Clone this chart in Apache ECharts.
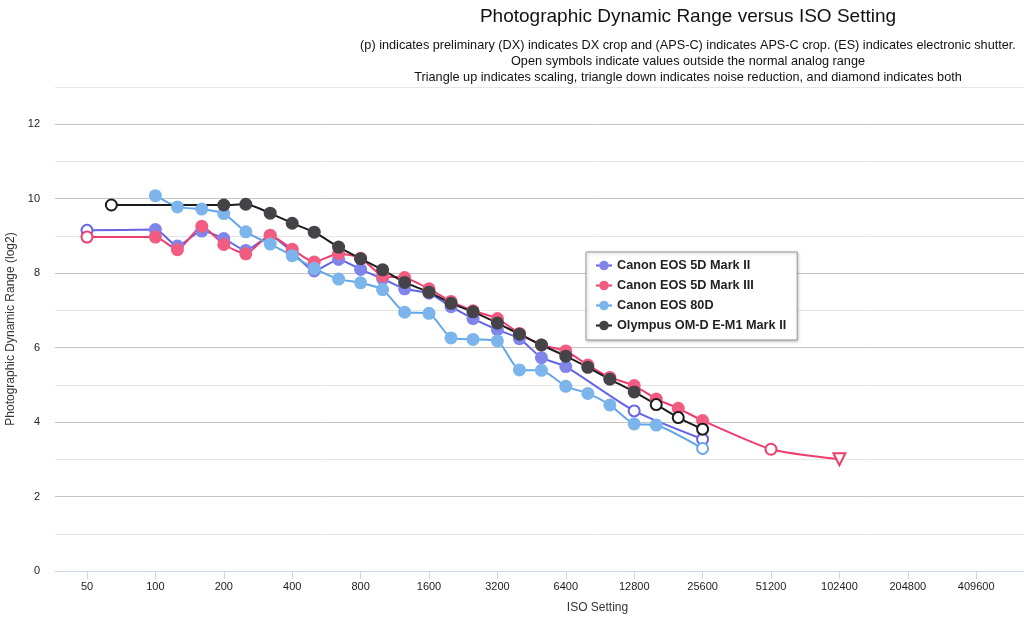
<!DOCTYPE html>
<html>
<head>
<meta charset="utf-8">
<script src="https://cdn.jsdelivr.net/npm/echarts@6/dist/echarts.min.js"></script>
<style>
html,body{margin:0;padding:0;background:#fff;overflow:hidden;width:1024px;height:643px;}
#chart{width:1376px;height:643px;}
</style>
</head>
<body>
<div id="chart"></div>
<script>
// ---- data (ISO setting, photographic dynamic range in log2) ----
// marker codes: 'f' filled, 'o' open (outside normal analog range), 'v' triangle down (noise reduction, open)
const isoTicks = [50, 100, 200, 400, 800, 1600, 3200, 6400, 12800, 25600, 51200, 102400, 204800, 409600, 819200, 1638400];
const yTicks = [0, 2, 4, 6, 8, 10, 12];

const mk2Iso = [50,100,125,160,200,250,320,400,500,640,800,1000,1250,1600,2000,2500,3200,4000,5000,6400,12800,25600];
const mk2Dr  = [9.15,9.17,8.73,9.13,8.93,8.61,9.00,8.57,8.06,8.37,8.10,7.85,7.58,7.46,7.10,6.78,6.48,6.24,5.73,5.49,4.30,3.54];
const mk2Mk  = ['o','f','f','f','f','f','f','f','f','f','f','f','f','f','f','f','f','f','f','f','o','o'];

const mk3Iso = [50,100,125,160,200,250,320,400,500,640,800,1000,1250,1600,2000,2500,3200,4000,5000,6400,8000,10000,12800,16000,20000,25600,51200,102400];
const mk3Dr  = [8.97,8.97,8.63,9.26,8.77,8.52,9.02,8.64,8.30,8.53,8.40,7.92,7.88,7.58,7.24,6.99,6.78,6.38,6.07,5.91,5.53,5.20,4.98,4.62,4.37,4.04,3.27,3.00];
const mk3Mk  = ['o','f','f','f','f','f','f','f','f','f','f','f','f','f','f','f','f','f','f','f','f','f','f','f','f','f','o','v'];

const d80Iso = [100,125,160,200,250,320,400,500,640,800,1000,1250,1600,2000,2500,3200,4000,5000,6400,8000,10000,12800,16000,25600];
const d80Dr  = [10.08,9.78,9.72,9.60,9.11,8.78,8.47,8.13,7.84,7.74,7.56,6.95,6.92,6.26,6.22,6.18,5.40,5.39,4.96,4.77,4.46,3.95,3.92,3.29];
const d80Mk  = ['f','f','f','f','f','f','f','f','f','f','f','f','f','f','f','f','f','f','f','f','f','f','f','o'];

const olyIso = [64,200,250,320,400,500,640,800,1000,1250,1600,2000,2500,3200,4000,5000,6400,8000,10000,12800,16000,20000,25600];
const olyDr  = [9.83,9.83,9.85,9.61,9.34,9.10,8.70,8.39,8.09,7.75,7.49,7.19,6.96,6.66,6.36,6.07,5.77,5.47,5.15,4.81,4.47,4.12,3.81];
const olyMk  = ['o','f','f','f','f','f','f','f','f','f','f','f','f','f','f','f','f','f','f','f','o','o','o'];

const seriesDefs = [
  {name: 'Canon EOS 5D Mark II',        iso: mk2Iso, dr: mk2Dr, mk: mk2Mk, color: '#8085e9', line: '#6464e6'},
  {name: 'Canon EOS 5D Mark III',       iso: mk3Iso, dr: mk3Dr, mk: mk3Mk, color: '#f15c80', line: '#ef3d6c'},
  {name: 'Canon EOS 80D',               iso: d80Iso, dr: d80Dr, mk: d80Mk, color: '#7cb5ec', line: '#62a6ea'},
  {name: 'Olympus OM-D E-M1 Mark II',   iso: olyIso, dr: olyDr, mk: olyMk, color: '#434348', line: '#1c1c1e'}
];

const FONT = '"Liberation Sans", Arial, sans-serif';

const series = seriesDefs.map(function (s) {
  const data = s.iso.map(function (x, i) {
    const item = {value: [x, s.dr[i]]};
    if (s.mk[i] === 'o') {
      item.symbol = 'circle';
      item.symbolSize = 11;
      item.itemStyle = {color: '#ffffff', borderColor: s.line, borderWidth: 2};
    } else if (s.mk[i] === 'v') {
      item.symbol = 'triangle';
      item.symbolRotate = 180;
      item.symbolSize = 12;
      item.itemStyle = {color: '#ffffff', borderColor: s.line, borderWidth: 2};
    }
    return item;
  });
  return {
    name: s.name,
    type: 'line',
    data: data,
    smooth: 0.2,
    symbol: 'circle',
    symbolSize: 13,
    showAllSymbol: true,
    lineStyle: {color: s.line, width: 2},
    itemStyle: {color: s.color},
    emphasis: {disabled: true},
    animation: false
  };
});

const chart = echarts.init(document.getElementById('chart'), null, {renderer: 'canvas'});
chart.setOption({
  backgroundColor: '#ffffff',
  animation: false,
  title: {
    text: 'Photographic Dynamic Range versus ISO Setting',
    subtext: '(p) indicates preliminary (DX) indicates DX crop and (APS-C) indicates APS-C crop. (ES) indicates electronic shutter.\nOpen symbols indicate values outside the normal analog range\nTriangle up indicates scaling, triangle down indicates noise reduction, and diamond indicates both',
    left: 'center',
    top: 2,
    itemGap: 11,
    textStyle: {fontFamily: FONT, fontSize: 19, fontWeight: 'normal', color: '#111'},
    subtextStyle: {fontFamily: FONT, fontSize: 12.7, color: '#111', lineHeight: 16}
  },
  legend: {
    orient: 'vertical',
    left: 586,
    top: 252,
    padding: [7, 11, 8, 9],
    itemGap: 7,
    itemWidth: 16,
    itemHeight: 12,
    backgroundColor: '#ffffff',
    borderColor: '#999999',
    borderWidth: 1,
    shadowBlur: 3,
    shadowOffsetX: 1,
    shadowOffsetY: 1,
    shadowColor: 'rgba(0,0,0,0.25)',
    textStyle: {fontFamily: FONT, fontSize: 12.7, fontWeight: 'bold', color: '#222'},
    data: seriesDefs.map(function (s) { return s.name; })
  },
  grid: {left: 55, right: 236, top: 87, bottom: 72, containLabel: false, outerBoundsMode: 'none'},
  xAxis: {
    type: 'log',
    logBase: 2,
    min: 36.15,
    max: 2154000,
    name: 'ISO Setting',
    nameLocation: 'middle',
    nameGap: 31,
    nameTextStyle: {fontFamily: FONT, fontSize: 12, color: '#333'},
    axisLine: {show: true, lineStyle: {color: '#ccd6eb', width: 1}},
    axisTick: {show: true, length: 8, lineStyle: {color: '#ccd6eb'}, customValues: isoTicks},
    axisLabel: {fontFamily: FONT, fontSize: 11, color: '#222', margin: 10, customValues: isoTicks,
      formatter: function (v) { return String(Math.round(v)); }},
    splitLine: {show: false}
  },
  yAxis: {
    type: 'value',
    min: 0,
    max: 13,
    interval: 1,
    name: 'Photographic Dynamic Range (log2)',
    nameLocation: 'middle',
    nameGap: 36,
    nameTextStyle: {fontFamily: FONT, fontSize: 12, color: '#333'},
    axisLine: {show: false},
    axisTick: {show: false},
    axisLabel: {fontFamily: FONT, fontSize: 11, color: '#222', margin: 15,
      formatter: function (v) { return yTicks.indexOf(v) >= 0 ? String(v) : ''; }},
    splitLine: {show: true, lineStyle: {color: ['#c4c4c4', '#e6e6e6'], width: 1}}
  },
  series: series
});
</script>
</body>
</html>
